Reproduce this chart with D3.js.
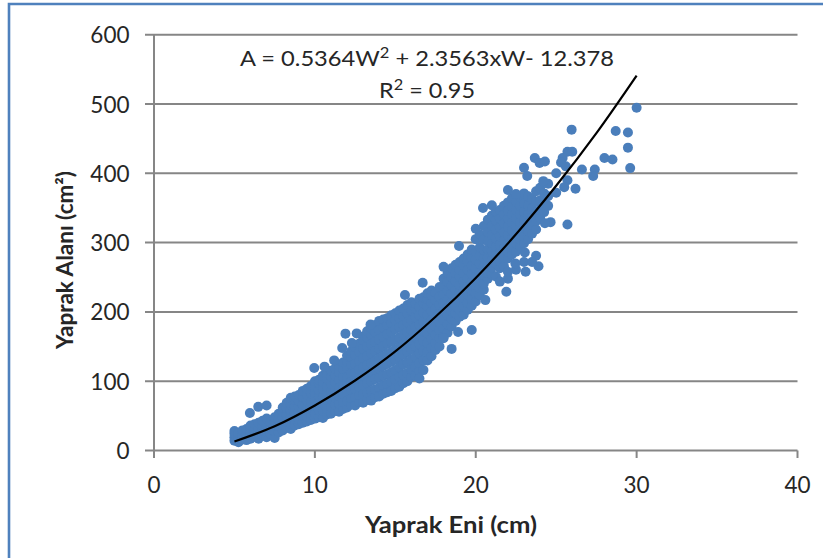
<!DOCTYPE html>
<html>
<head>
<meta charset="utf-8">
<script src="https://cdn.jsdelivr.net/npm/d3@7"></script>
<style>
html,body{margin:0;padding:0;background:#fff;}
svg{display:block;}
text{font-family:Lato,"Open Sans",sans-serif;fill:#262626;}
</style>
</head>
<body>
<div id="chart"></div>
<script>
const xTicks = [0, 10, 20, 30, 40];
const yTicks = [0, 100, 200, 300, 400, 500, 600];
const xTitle = "Yaprak Eni (cm)";
const yTitle = "Yaprak Alanı (cm²)";
const equationStart = "A = 0.5364W";
const equationPower = "2";
const equationEnd = " + 2.3563xW- 12.378";
const r2Start = "R";
const r2End = " = 0.95";

// Values, grouped by leaf width column
const bandWidths = [
  5,5.25,5.5,5.75,6,6.25,6.5,6.75,7,7.25,7.5,7.75,8,8.25,8.5,8.75,9,9.25,9.5,9.75,
  10,10.25,10.5,10.75,11,11.25,11.5,11.75,12,12.25,12.5,12.75,13,13.25,13.5,13.75,14,14.25,14.5,14.75,
  15,15.25,15.5,15.75,16,16.25,16.5,16.75,17,17.25,17.5,17.75,18,18.25,18.5,18.75,19,19.25,19.5,19.75,
  20,20.25,20.5,20.75,21,21.25,21.5,21.75,22,22.25,22.5,22.75,23,23.25,23.5,23.75,24,24.25,24.5
];
const bandAreas = [
  [14,19,24,28],[12,18,25],[16,21,29],[15,23,31],[17,26,33,36],[20,28,38],[17,24,31,40],[22,29,36,43],[19,27,35,46],[24,33,41],[18,28,37,44,48],[26,35,45,53],
  [29,37,48,56,62],[33,42,51,61,69],[31,39,47,58,66,76],[36,45,55,64,73,78],[38,44,54,63,71,80],[40,50,59,66,77,86],[42,49,61,72,81,89],[44,54,62,71,84,93],
  [46,53,64,76,83,92,100],[48,58,69,79,87,97,102],[47,57,68,77,89,99,108],[52,60,73,84,92,104,112],[53,62,74,85,96,107,115],[57,66,76,87,99,108,118],[56,68,79,90,103,113,122],[60,70,82,93,107,118,127],
  [62,71,84,96,106,119,128,137],[66,75,87,99,111,124,135,143],[65,77,89,102,113,125,138,149],[70,80,92,105,117,129,142,154],[69,81,94,108,120,133,147,159,164],[73,83,97,110,123,136,150,163,172],[72,86,100,113,126,140,153,167,176],[77,88,103,116,129,144,157,171,181],
  [78,91,105,118,133,147,160,174,187],[82,94,108,122,136,150,164,177,189],[84,96,110,125,139,154,168,181,191],[86,99,113,128,142,157,171,184,195],
  [90,102,116,131,146,160,175,188,198],[92,106,120,135,149,163,178,191,202],[97,109,124,138,153,167,181,194,205],[100,112,127,142,156,171,185,198,210],
  [106,117,131,146,160,174,188,202,214],[108,121,135,150,164,178,192,205,212],[115,126,140,153,167,181,195,207,219],[116,130,144,158,172,186,199,212,221],
  [130,142,155,169,183,196,208,218,227],[136,148,161,175,188,201,213,224,231],[145,155,167,179,192,205,217,228],[150,162,174,186,198,210,222,236],
  [165,176,188,201,213,225,237,248],[170,182,195,206,218,231,243,256],[179,190,201,214,226,238,250,263],[187,198,208,220,232,244,256,268],
  [193,203,215,227,239,251,261,272],[196,208,220,232,244,256,268,277],[203,213,225,237,249,261,273,283],[209,219,231,243,255,267,279,290],
  [215,227,239,251,263,275,287,305],[224,235,245,257,269,281,293,312],[232,241,253,265,277,289,304,324],[248,256,267,278,290,302,315,333],
  [254,264,275,287,299,311,324,339],[251,270,282,294,306,319,332,345],[263,273,285,297,309,322,335,347],[266,279,291,303,315,328,341,353],
  [248,277,287,299,311,323,335,346,358],[283,293,305,317,329,341,352,364],[261,287,299,311,323,335,347,359],[295,305,317,329,341,353,366],
  [272,299,309,321,333,345,357,371],[305,317,329,341,353,367],[313,325,337,349,363],[281,319,331,344,359,374],[336,347,361,379],[344,357,371],[353,367,385]
];

// Isolated points
const outlierWidths = [30,25.96,28.7,29.46,29.46,29.6,28,28.5,26.6,27.4,27.3,26.2,25.7,24.65,24.3,23.67,23.97,24.3,23,23.2,25,24.2,25.7,26,25.4,25.3,25.6,25.7,25,25.5,22,22.5,20.45,21,18.96,20,23.9,23.5,23.1,22.46,23.05,22,18,16.7,21.5,21.9,5.96,6.48,7,9.96,10.6,11.2,11.7,11.9,12.6,12.3,13.46,15.6,16.5,18.5,18,18.9,19.75,20.6];
const outlierAreas = [494.6,463,461,459,437,407.5,422,420,405.5,405.5,396,377.6,326,329.5,328,422,415,417,408,396,400,388.7,431,431,422,415.6,410,390,372,380,376,370,350,354,295,320,266,272,258,270,285.6,258,265,242,243.7,229,54,63,65,119,121,130,148,168.6,169,155,181.7,224.5,104,146.6,162,171,174,217];

// Fitted curve read along its length
const trendWidths = [5,7.5,10,12.5,15,17.5,20,22.5,25,27.5,30];
const trendAreas = [13,35,65,101,143,193,249,312,382,458,541];

const W = 823, H = 558;
const svg = d3.select("#chart").append("svg").attr("width", W).attr("height", H);

const x = d3.scaleLinear().domain([0, 40]).range([154, 797.5]);
const y = d3.scaleLinear().domain([0, 600]).range([450.5, 34.7]);

const frameColor = "#4f81bd";
svg.append("path")
  .attr("d", d3.line()([[9, H], [9, 4], [W, 4]]))
  .attr("fill", "none").attr("stroke", frameColor).attr("stroke-width", 2.6);

const axisColor = "#868686";

svg.append("g").selectAll("line").data(yTicks).join("line")
  .attr("x1", 145).attr("x2", x(40))
  .attr("y1", d => y(d)).attr("y2", d => y(d))
  .attr("stroke", axisColor).attr("stroke-width", 2);

svg.append("line").attr("x1", x(0)).attr("x2", x(0)).attr("y1", y(600)).attr("y2", y(0))
  .attr("stroke", axisColor).attr("stroke-width", 2);

svg.append("g").selectAll("line").data(xTicks).join("line")
  .attr("x1", d => x(d)).attr("x2", d => x(d))
  .attr("y1", y(0)).attr("y2", 458)
  .attr("stroke", axisColor).attr("stroke-width", 2);

svg.append("g").selectAll("text").data(yTicks).join("text")
  .attr("x", 129.5).attr("y", d => y(d) + 8.5)
  .attr("text-anchor", "end").attr("font-size", 22.5).text(d => d);
svg.append("g").selectAll("text").data(xTicks).join("text")
  .attr("x", d => x(d)).attr("y", 493)
  .attr("text-anchor", "middle").attr("font-size", 22.5).text(d => d);

const bandPoints = bandWidths.flatMap((w, i) => bandAreas[i].map(a => [w, a]));
const outlierPoints = outlierWidths.map((w, i) => [w, outlierAreas[i]]);
svg.append("g").selectAll("circle").data(bandPoints.concat(outlierPoints)).join("circle")
  .attr("cx", d => x(d[0])).attr("cy", d => y(d[1])).attr("r", 5)
  .attr("fill", "#4a7ebb");

svg.append("path")
  .datum(trendWidths.map((w, i) => [w, trendAreas[i]]))
  .attr("fill", "none").attr("stroke", "#000").attr("stroke-width", 2.2)
  .attr("d", d3.line().x(d => x(d[0])).y(d => y(d[1])).curve(d3.curveCatmullRom));

svg.append("text").attr("x", 451).attr("y", 533)
  .attr("text-anchor", "middle").attr("font-size", 22).attr("font-weight", 700)
  .attr("textLength", 172).attr("lengthAdjust", "spacingAndGlyphs").text(xTitle);
svg.append("text").attr("transform", "translate(73,260) rotate(-90)")
  .attr("text-anchor", "middle").attr("font-size", 22.5).attr("font-weight", 700).text(yTitle);

const eq = svg.append("text").attr("x", 240).attr("y", 65.5).attr("font-size", 21.5)
  .attr("textLength", 374).attr("lengthAdjust", "spacingAndGlyphs");
eq.append("tspan").text(equationStart);
eq.append("tspan").attr("dy", -8).attr("font-size", 15).text(equationPower);
eq.append("tspan").attr("dy", 8).text(equationEnd);

const r2 = svg.append("text").attr("x", 379).attr("y", 97.5).attr("font-size", 21.5)
  .attr("textLength", 96).attr("lengthAdjust", "spacingAndGlyphs");
r2.append("tspan").text(r2Start);
r2.append("tspan").attr("dy", -8).attr("font-size", 15).text(equationPower);
r2.append("tspan").attr("dy", 8).text(r2End);
</script>
</body>
</html>
